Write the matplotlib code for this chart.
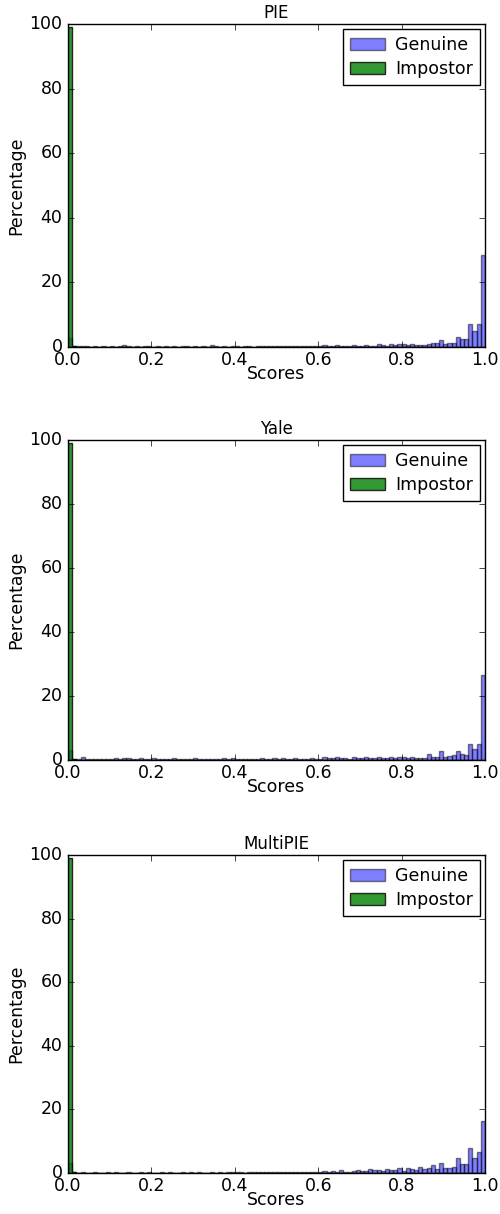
import matplotlib
matplotlib.use('Agg')
import matplotlib.pyplot as plt

plt.style.use('classic')

# 100 bins over [0, 1], values in percent
bin_edges = [i / 100.0 for i in range(101)]

titles = ['PIE', 'Yale', 'MultiPIE']

pie_genuine = [
    2.7, 0.4, 0.3, 0.2, 0.3, 0.1, 0.2, 0.1, 0.2, 0.1,
    0.3, 0.1, 0.2, 0.5, 0.2, 0.1, 0.2, 0.1, 0.2, 0.3,
    0.1, 0.2, 0.1, 0.2, 0.1, 0.2, 0.1, 0.3, 0.2, 0.1,
    0.2, 0.1, 0.2, 0.1, 0.5, 0.2, 0.1, 0.2, 0.1, 0.3,
    0.2, 0.1, 0.2, 0.2, 0.1, 0.3, 0.2, 0.2, 0.3, 0.2,
    0.2, 0.3, 0.2, 0.2, 0.4, 0.2, 0.3, 0.2, 0.4, 0.3,
    0.2, 0.5, 0.3, 0.3, 0.6, 0.3, 0.3, 0.4, 0.6, 0.3,
    0.4, 0.7, 0.4, 0.3, 0.8, 0.5, 0.4, 0.9, 0.6, 0.8,
    0.8, 0.6, 1.0, 0.6, 0.5, 0.7, 0.8, 1.2, 1.1, 2.2,
    0.9, 1.2, 1.1, 3.2, 2.4, 2.4, 7.0, 5.0, 7.0, 28.5,
]
yale_genuine = [
    3.2, 0.3, 0.2, 0.8, 0.3, 0.4, 0.3, 0.4, 0.3, 0.4,
    0.4, 0.5, 0.4, 0.7, 0.5, 0.3, 0.4, 0.5, 0.3, 0.4,
    0.5, 0.3, 0.4, 0.3, 0.3, 0.5, 0.3, 0.4, 0.3, 0.3,
    0.7, 0.3, 0.3, 0.4, 0.3, 0.4, 0.4, 0.5, 0.3, 0.6,
    0.3, 0.4, 0.3, 0.3, 0.4, 0.4, 0.5, 0.4, 0.3, 0.5,
    0.4, 0.6, 0.3, 0.4, 0.5, 0.3, 0.4, 0.3, 0.5, 0.3,
    0.4, 0.9, 0.5, 0.6, 0.8, 0.5, 0.5, 0.4, 0.8, 0.6,
    0.7, 0.9, 0.6, 0.5, 0.8, 0.6, 0.6, 0.9, 0.7, 0.8,
    0.8, 0.6, 1.0, 0.6, 0.6, 0.7, 1.8, 0.8, 0.9, 2.7,
    1.0, 1.2, 1.6, 2.9, 1.9, 1.6, 5.0, 3.4, 4.9, 26.5,
]
multipie_genuine = [
    3.0, 0.2, 0.1, 0.2, 0.1, 0.1, 0.2, 0.1, 0.1, 0.2,
    0.1, 0.2, 0.1, 0.1, 0.2, 0.1, 0.1, 0.2, 0.1, 0.2,
    0.1, 0.1, 0.2, 0.1, 0.2, 0.1, 0.1, 0.2, 0.1, 0.2,
    0.1, 0.2, 0.1, 0.1, 0.2, 0.1, 0.2, 0.1, 0.2, 0.2,
    0.3, 0.2, 0.1, 0.2, 0.3, 0.2, 0.2, 0.3, 0.2, 0.2,
    0.2, 0.3, 0.2, 0.4, 0.3, 0.4, 0.3, 0.3, 0.2, 0.4,
    0.3, 0.5, 0.4, 0.5, 0.3, 0.9, 0.3, 0.2, 0.6, 0.9,
    0.7, 0.5, 1.2, 0.8, 0.9, 0.5, 1.3, 0.9, 1.0, 1.6,
    0.7, 1.5, 1.1, 0.9, 2.0, 1.1, 1.7, 2.5, 1.4, 3.0,
    1.5, 1.5, 2.0, 4.6, 2.7, 2.7, 8.0, 4.6, 6.7, 16.4,
]
impostor = [99.0, 0.2, 0.1] + [0.0] * 97

genuine_sets = [pie_genuine, yale_genuine, multipie_genuine]

# axes boxes in figure fractions (left, bottom, width, height)
positions = [
    (0.136, 0.7142, 0.834, 0.2661),
    (0.136, 0.3740, 0.834, 0.2636),
    (0.136, 0.0338, 0.834, 0.2619),
]

fig = plt.figure(figsize=(5.0, 12.14), dpi=100)

left = bin_edges[:-1]
for pos, title, gen in zip(positions, titles, genuine_sets):
    ax = fig.add_axes(pos)
    ax.bar(left, gen, width=0.01, align='edge', color='b', alpha=0.5,
           edgecolor='k', linewidth=1.0, label='Genuine')
    ax.bar(left, impostor, width=0.01, align='edge', color='g', alpha=0.8,
           edgecolor='k', linewidth=1.0, label='Impostor')
    ax.set_xlim(0, 1)
    ax.set_ylim(0, 100)
    ax.set_xticks([0.0, 0.2, 0.4, 0.6, 0.8, 1.0])
    ax.set_yticks([0, 20, 40, 60, 80, 100])
    ax.tick_params(labelsize=12.5)
    ax.tick_params(axis='x', pad=3)
    ax.tick_params(axis='y', pad=4)
    ax.set_title(title, fontsize=12, pad=4)
    ax.set_xlabel('Scores', fontsize=12.5, labelpad=-3)
    ax.set_ylabel('Percentage', fontsize=12.5, labelpad=3)
    ax.legend(loc='upper right', fontsize=12.5, labelspacing=0.35,
              borderaxespad=0.3, handletextpad=0.6)

fig.savefig('out.png', dpi=100)
